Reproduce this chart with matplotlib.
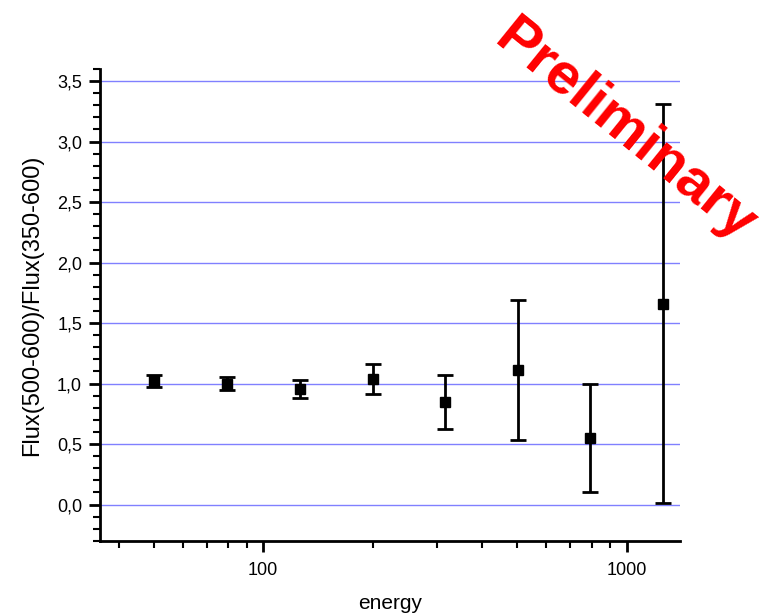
import matplotlib
matplotlib.use("Agg")
import matplotlib.pyplot as plt
from matplotlib.ticker import FuncFormatter, MultipleLocator, LogLocator, NullFormatter, FixedLocator

plt.rcParams['font.family'] = ['Liberation Sans', 'DejaVu Sans']

energy = [50, 79.4, 126, 200, 316, 501, 794, 1259]
ratio = [1.02, 1.0, 0.955, 1.04, 0.845, 1.11, 0.55, 1.66]
err = [0.048, 0.054, 0.073, 0.125, 0.223, 0.58, 0.45, 1.65]
yticks = [0.0, 0.5, 1.0, 1.5, 2.0, 2.5, 3.0, 3.5]
xticks = [100, 1000]

fig = plt.figure(figsize=(7.7, 6.16), dpi=100)
ax = fig.add_axes([0.13, 0.122, 0.753, 0.766])

ax.set_xscale('log')
ax.set_xlim(35.6, 1400)
ax.set_ylim(-0.3, 3.6)

for yv in yticks:
    ax.axhline(yv, color='#8080ff', lw=1, zorder=1)

ax.errorbar(energy, ratio, yerr=err, fmt='s', color='black', ms=7,
            ecolor='black', elinewidth=2, capsize=5.5, capthick=2, zorder=3)

ax.xaxis.set_major_locator(FixedLocator(xticks))
ax.xaxis.set_minor_locator(LogLocator(base=10, subs=range(2, 10)))
ax.xaxis.set_major_formatter(FuncFormatter(lambda v, p: f"{int(v)}"))
ax.xaxis.set_minor_formatter(NullFormatter())

ax.yaxis.set_major_locator(FixedLocator(yticks))
ax.yaxis.set_minor_locator(MultipleLocator(0.1))
ax.yaxis.set_major_formatter(FuncFormatter(lambda v, p: f"{v:.1f}".replace('.', ',')))

for s in ['top', 'right']:
    ax.spines[s].set_visible(False)
for s in ['left', 'bottom']:
    ax.spines[s].set_linewidth(2)

ax.tick_params(axis='both', which='major', length=8, width=2, labelsize=13, direction='out')
ax.tick_params(axis='both', which='minor', length=5, width=1.5, direction='out')
ax.tick_params(axis='x', pad=7)
ax.tick_params(axis='y', pad=5)

ax.set_xlabel('energy', fontsize=15, labelpad=11)
ax.set_ylabel('Flux(500-600)/Flux(350-600)', fontsize=17, labelpad=10)

fig.text(0.811, 0.787, 'Preliminary', color='red', fontsize=42, fontweight='bold',
         rotation=-39, ha='center', va='center', rotation_mode='anchor')

fig.savefig('out.png', dpi=100)
